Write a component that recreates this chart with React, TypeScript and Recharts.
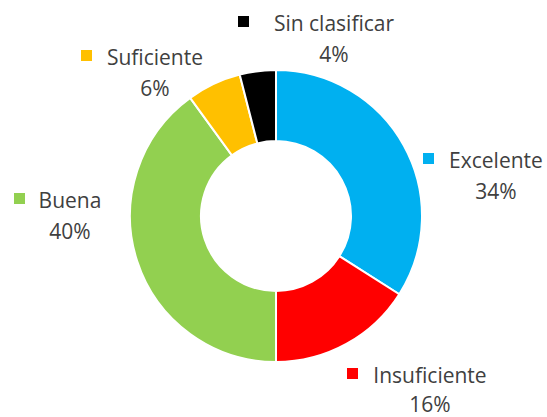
import React from "react";
import { PieChart, Pie, Cell } from "recharts";

const categories = ["Excelente", "Insuficiente", "Buena", "Suficiente", "Sin clasificar"];
const shares = [34, 16, 40, 6, 4];
const pctLabels = ["34%", "16%", "40%", "6%", "4%"];

const COLORS = ["#00B0F0", "#FF0000", "#92D050", "#FFC000", "#000000"];

// label layout, relative to the pie centre: name centre x, name baseline y, square left x
const LABEL_LAYOUT = [
  { dx: 220, dy: -48, sq: 147 },
  { dx: 154, dy: 167, sq: 71 },
  { dx: -206, dy: -8, sq: -262 },
  { dx: -121, dy: -151, sq: -195 },
  { dx: 58, dy: -185, sq: -38 },
];

const data = categories.map((name, i) => ({ name, value: shares[i], pct: pctLabels[i] }));

const CX = 276;
const CY = 216;
const FONT = "'Open Sans', sans-serif";

const renderLabel = (props: any) => {
  const { cx, cy, index } = props;
  const l = LABEL_LAYOUT[index];
  const tx = cx + l.dx;
  const ty = cy + l.dy;
  const gap = index === 1 ? 29 : 31;
  return (
    <g key={`lab-${index}`}>
      <rect x={cx + l.sq} y={ty - 15} width={11} height={11} fill={COLORS[index]} />
      <text x={tx} y={ty} textAnchor="middle" fontSize={21} fill="#404040" fontFamily={FONT}>
        {data[index].name}
      </text>
      <text x={tx} y={ty + gap} textAnchor="middle" fontSize={21} fill="#404040" fontFamily={FONT}>
        {data[index].pct}
      </text>
    </g>
  );
};

export default function App() {
  return (
    <div style={{ position: "absolute", left: 0, top: 0, background: "#fff" }}>
      <PieChart width={547} height={417} margin={{ top: 0, right: 0, bottom: 0, left: 0 }}>
        <Pie
          data={data}
          dataKey="value"
          nameKey="name"
          cx={CX}
          cy={CY}
          outerRadius={146}
          innerRadius={75}
          startAngle={90}
          endAngle={-270}
          stroke="#ffffff"
          strokeWidth={2}
          label={renderLabel}
          labelLine={false}
          isAnimationActive={false}
        >
          {data.map((d, i) => (
            <Cell key={d.name} fill={COLORS[i]} />
          ))}
        </Pie>
      </PieChart>
    </div>
  );
}
